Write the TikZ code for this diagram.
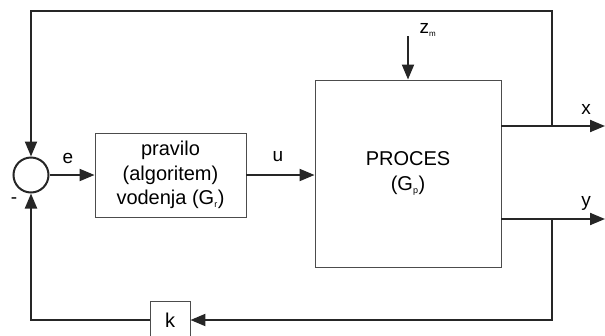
\documentclass[tikz,border=0pt]{standalone}
\usepackage{fontspec}
\setmainfont{Liberation Sans}
\usetikzlibrary{arrows.meta}
\begin{document}
\begin{tikzpicture}[x=1pt,y=-1pt,
  blk/.style={draw=black!70,line width=0.9pt,fill=white,inner sep=0pt},
  wire/.style={draw=black!85,line width=2pt},
  arr/.style={wire,-{Triangle[length=15pt,width=12pt]}},
  lbl/.style={font=\fontsize{19}{20}\selectfont,inner sep=0pt}]
\useasboundingbox (0,0) rectangle (605,335);
\node[blk,minimum width=151pt,minimum height=84pt,align=center,font=\fontsize{20}{24.5}\selectfont] (reg) at (170.5,175) {pravilo\\(algoritem)\\vodenja (G\textsubscript{\fontsize{9}{9}\selectfont r})};
\node[blk,minimum width=186pt,minimum height=187pt,align=center,font=\fontsize{20}{25}\selectfont] (proc) at (408,173.5) {PROCES\\(G\textsubscript{\fontsize{9}{9}\selectfont p})};
\node[blk,minimum width=40pt,minimum height=38pt,font=\fontsize{20}{20}\selectfont] (k) at (170,320) {k};
\node[circle,draw=black!85,line width=2pt,minimum size=35pt,inner sep=0pt] (sum) at (31,175) {};
\coordinate (xo) at (501,126);
\coordinate (yo) at (501,219);
\coordinate (xj) at (552,126);
\coordinate (yj) at (552,219);
\coordinate (xe) at (605,126);
\coordinate (ye) at (605,219);
\coordinate (zt) at (408,36);
\coordinate (tr) at (552,11);
\coordinate (tl) at (31,11);
\coordinate (br) at (552,320);
\coordinate (bl) at (31,320);
\draw[arr] (sum.east) -- (reg.west|-sum.east);
\draw[arr] (reg.east) -- (proc.west|-reg.east);
\draw[arr] (zt) -- (proc.north);
\draw[arr] (xo) -- (xe);
\draw[arr] (yo) -- (ye);
\draw[arr] (xj) -- (tr) -- (tl) -- (sum.north);
\draw[arr] (yj) -- (br) -- (k.east);
\draw[arr] (k.west) -- (bl) -- (sum.south);
\node[lbl] (le) at (68,158) {e};
\node[lbl] (lu) at (278,157) {u};
\node[lbl] (lm) at (14,201) {-};
\node[lbl] (lx) at (586,109) {x};
\node[lbl] (ly) at (586,203) {y};
\node[lbl] (lz) at (428,30) {z\textsubscript{\fontsize{8}{8}\selectfont m}};
\end{tikzpicture}
\end{document}
